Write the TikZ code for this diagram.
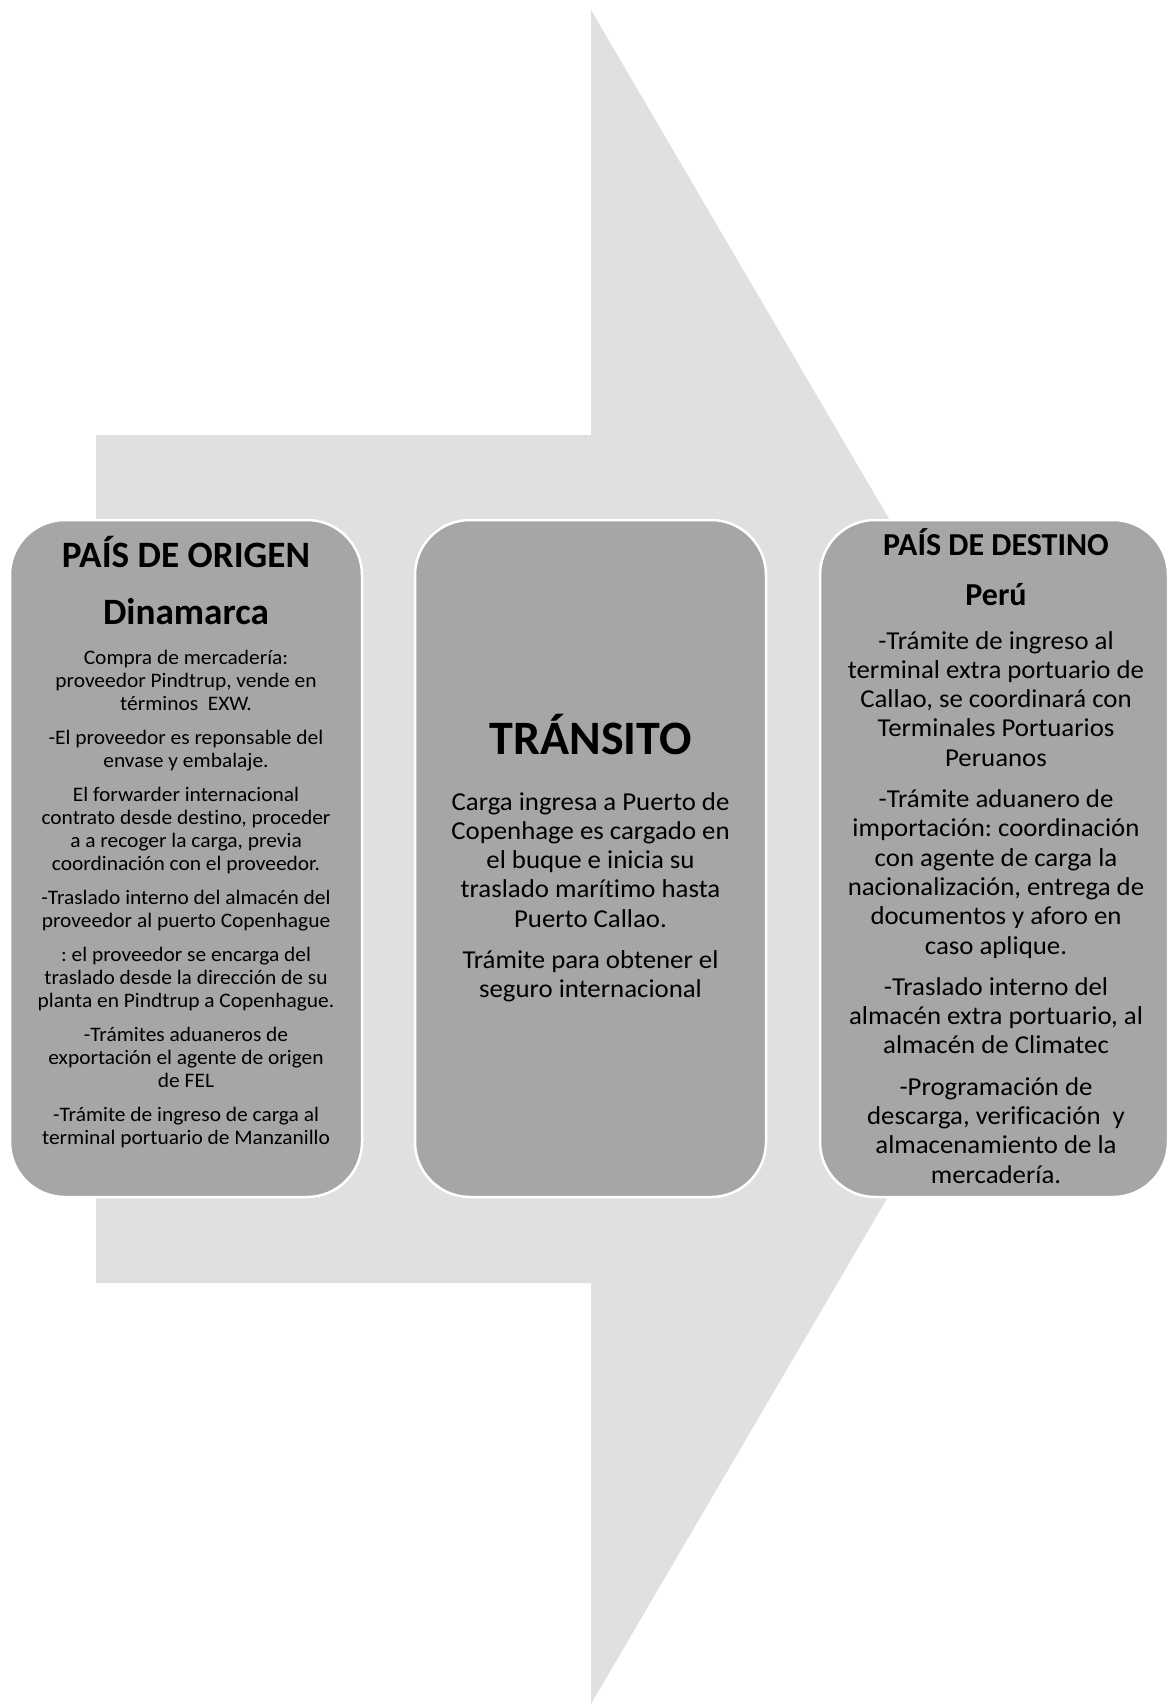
\documentclass[tikz,border=0pt]{standalone}
\usepackage{fontspec}
\setmainfont{Carlito}[Ligatures=NoCommon, FakeStretch=1.04]
\newfontfamily\titlefont{Carlito}[Ligatures=NoCommon]
\definecolor{arrowgray}{HTML}{E0E0E0}
\definecolor{boxgray}{HTML}{A6A6A6}
\frenchspacing
\begin{document}
\begin{tikzpicture}[x=1pt,y=-1pt,
  stagebox/.style={draw=white, line width=2.5pt, fill=boxgray, rounded corners=55pt,
    minimum height=677pt, inner sep=0pt},
  bigtitle/.style={anchor=base, inner sep=0pt, font=\titlefont\fontsize{37.2}{40}\selectfont\bfseries},
  bodysmall/.style={anchor=base, inner sep=0pt, text width=360pt, align=flush center,
    font=\fontsize{20.6}{23}\selectfont\frenchspacing},
  bodylarge/.style={anchor=base, inner sep=0pt, text width=360pt, align=flush center,
    font=\fontsize{25.8}{29.3}\selectfont\frenchspacing}]
\useasboundingbox (0,0) rectangle (1169,1704);
% big background arrow
\fill[arrowgray] (96,435) -- (591,435) -- (591,10) -- (1087,857) -- (591,1704)
  -- (591,1283) -- (96,1283) -- cycle;
% stage boxes
\node[stagebox, minimum width=352pt] (origen) at (186,858.5) {};
\node[stagebox, minimum width=351pt] (transito) at (590.5,858.5) {};
\node[stagebox, minimum width=348pt] (destino) at (994,858.5) {};
% left box texts
\node[bigtitle] (t1a) at (186,567) {PAÍS DE ORIGEN};
\node[bigtitle] (t1b) at (186,624) {Dinamarca};
\node[bodysmall] (b1) at (186,664) {Compra de mercadería:\\
proveedor Pindtrup, vende en\\
términos\ \ EXW.\\[11pt]
-El proveedor es reponsable del\\
envase y embalaje.\\[11pt]
El forwarder internacional\\
contrato desde destino, proceder\\
a a recoger la carga, previa\\
coordinación con el proveedor.\\[11pt]
-Traslado interno del almacén del\\
proveedor al puerto Copenhague\\[11pt]
: el proveedor se encarga del\\
traslado desde la dirección de su\\
planta en Pindtrup a Copenhague.\\[11pt]
-Trámites aduaneros de\\
exportación el agente de origen\\
de FEL\\[11pt]
-Trámite de ingreso de carga al\\
terminal portuario de Manzanillo};
% middle box texts
\node[bigtitle, font=\titlefont\fontsize{48}{52}\selectfont\bfseries] (t2) at (590.5,754) {TRÁNSITO};
\node[bodylarge] (b2) at (590.5,810) {Carga ingresa a Puerto de\\
Copenhage es cargado en\\
el buque e inicia su\\
traslado marítimo hasta\\
Puerto Callao.\\[12pt]
Trámite para obtener el\\
seguro internacional};
% right box texts
\node[bigtitle, font=\titlefont\fontsize{32}{36}\selectfont\bfseries] (t3a) at (996,555) {PAÍS DE DESTINO};
\node[bigtitle, font=\titlefont\fontsize{32}{36}\selectfont\bfseries] (t3b) at (996,605) {Perú};
\node[bodylarge] (b3) at (996,649) {-Trámite de ingreso al\\
terminal extra portuario de\\
Callao, se coordinará con\\
Terminales Portuarios\\
Peruanos\\[12pt]
-Trámite aduanero de\\
importación: coordinación\\
con agente de carga la\\
nacionalización, entrega de\\
documentos y aforo en\\
caso aplique.\\[12pt]
-Traslado interno del\\
almacén extra portuario, al\\
almacén de Climatec\\[12pt]
-Programación de\\
descarga, verificación\ \ y\\
almacenamiento de la\\
mercadería.};
\end{tikzpicture}
\end{document}
